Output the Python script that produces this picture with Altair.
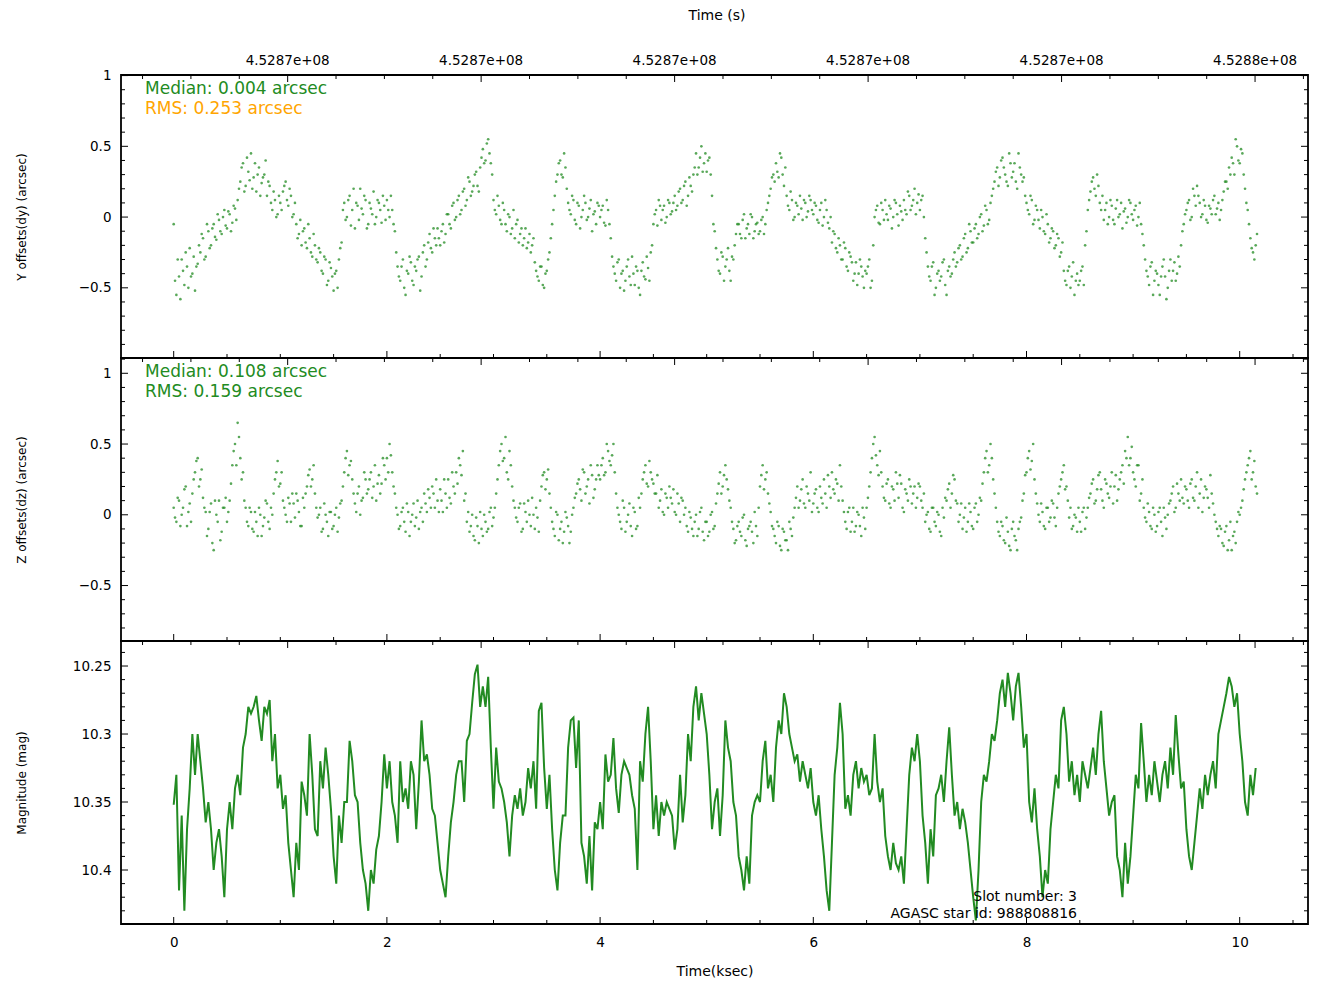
import altair as alt
import pandas as pd

# ---------------- data ----------------
T_STEP = 0.025  # ksec between samples; "b" readings sit half a step later

dy_values_a = [
    -0.05, -0.55, -0.42, -0.30, -0.48, -0.35, -0.22, -0.40, -0.52, -0.33, -0.25, -0.15, -0.28, -0.10, -0.20, -0.05, -0.16, -0.02, -0.12, 0.05,
    -0.08, 0.02, -0.04, 0.06, 0.12, 0.25, 0.38, 0.22, 0.32, 0.45, 0.28, 0.18, 0.35, 0.24, 0.30, 0.15, 0.22, 0.05, 0.12, 0.02,
    0.10, 0.18, 0.25, 0.08, 0.15, 0.02, -0.05, -0.12, -0.20, -0.08, -0.22, -0.15, -0.28, -0.20, -0.32, -0.25, -0.40, -0.30, -0.45, -0.36,
    -0.52, -0.38, -0.30, -0.18, 0.10, 0.00, 0.15, 0.05, -0.08, 0.08, 0.20, 0.02, 0.12, -0.05, 0.06, 0.18, 0.00, 0.10, -0.04, 0.08,
    0.12, 0.00, 0.05, -0.10, -0.35, -0.45, -0.30, -0.55, -0.40, -0.32, -0.48, -0.38, -0.28, -0.42, -0.20, -0.30, -0.12, -0.25, -0.15, -0.08,
    -0.20, -0.05, -0.12, 0.02, -0.08, 0.10, 0.00, 0.15, 0.05, 0.20, 0.12, 0.25, 0.18, 0.30, 0.22, 0.35, 0.48, 0.40, 0.55, 0.38,
    0.12, 0.02, 0.08, -0.05, 0.05, -0.10, 0.00, -0.08, -0.15, -0.02, -0.12, -0.20, -0.08, -0.18, -0.25, -0.15, -0.38, -0.45, -0.35, -0.50,
    -0.38, -0.25, -0.05, 0.15, 0.30, 0.40, 0.28, 0.35, 0.10, 0.02, 0.12, -0.05, 0.08, 0.00, 0.15, -0.02, 0.06, -0.10, 0.04, 0.10,
    0.00, 0.08, -0.06, 0.05, -0.15, -0.35, -0.45, -0.30, -0.40, -0.52, -0.35, -0.42, -0.28, -0.48, -0.38, -0.55, -0.32, -0.44, -0.36, -0.25,
    -0.05, 0.05, 0.12, -0.02, 0.08, 0.00, 0.10, 0.04, 0.15, 0.08, 0.20, 0.12, 0.25, 0.15, 0.22, 0.30, 0.45, 0.35, 0.50, 0.38,
    0.32, 0.42, 0.15, -0.10, -0.30, -0.40, -0.28, -0.35, -0.22, -0.45, -0.30, -0.12, -0.05, -0.15, 0.02, -0.08, -0.12, 0.00, -0.10, -0.04,
    -0.10, 0.00, -0.05, 0.10, 0.20, 0.30, 0.38, 0.28, 0.42, 0.22, 0.15, 0.05, 0.12, 0.00, 0.08, 0.15, -0.02, 0.10, 0.04, 0.12,
    0.02, 0.08, -0.04, 0.10, 0.00, 0.05, -0.08, -0.18, -0.12, -0.25, -0.20, -0.30, -0.22, -0.38, -0.28, -0.45, -0.32, -0.40, -0.35, -0.50,
    -0.40, -0.30, -0.45, 0.00, 0.08, -0.05, 0.05, 0.12, -0.02, 0.06, 0.00, 0.10, -0.06, 0.04, 0.12, 0.02, 0.15, 0.08, 0.20, 0.10,
    0.05, 0.15, -0.15, -0.35, -0.45, -0.32, -0.50, -0.38, -0.42, -0.30, -0.55, -0.35, -0.40, -0.25, -0.32, -0.20, -0.28, -0.12, -0.22, -0.10,
    -0.18, -0.05, -0.12, 0.02, -0.06, 0.05, -0.02, 0.15, 0.25, 0.35, 0.28, 0.42, 0.30, 0.22, 0.38, 0.32, 0.25, 0.45, 0.30, 0.28,
    0.10, 0.02, 0.12, -0.02, 0.05, -0.08, 0.00, -0.12, -0.05, -0.15, -0.10, -0.20, -0.15, -0.25, -0.38, -0.48, -0.35, -0.42, -0.55, -0.40,
    -0.45, -0.35, -0.20, 0.05, 0.18, 0.28, 0.15, 0.22, 0.05, -0.02, 0.10, 0.00, 0.08, -0.05, 0.12, 0.02, -0.08, 0.06, 0.00, 0.10,
    -0.02, 0.08, 0.00, -0.05, -0.20, -0.38, -0.48, -0.32, -0.45, -0.40, -0.55, -0.35, -0.42, -0.50, -0.30, -0.38, -0.45, -0.28, -0.20, -0.05,
    0.05, 0.12, 0.00, 0.15, 0.22, 0.10, 0.02, 0.08, -0.04, 0.06, 0.12, 0.02, 0.10, 0.05, 0.18, 0.25, 0.35, 0.42, 0.30, 0.50,
    0.38, 0.45, 0.20, 0.05, -0.15, -0.25, -0.20,
]

dy_values_b = [
    -0.45, -0.30, -0.58, -0.38, -0.25, -0.50, -0.42, -0.28, -0.35, -0.20, -0.12, -0.30, -0.05, -0.22, -0.08, -0.14, 0.02, -0.10, 0.00, -0.06,
    0.04, -0.10, 0.08, -0.02, 0.20, 0.35, 0.18, 0.42, 0.26, 0.20, 0.38, 0.30, 0.15, 0.28, 0.40, 0.25, 0.10, 0.18, 0.00, 0.15,
    0.05, 0.22, 0.12, 0.20, 0.00, 0.10, -0.15, -0.02, -0.10, -0.18, -0.05, -0.25, -0.12, -0.30, -0.22, -0.38, -0.28, -0.48, -0.32, -0.42,
    -0.40, -0.50, -0.22, 0.05, -0.02, 0.12, -0.06, 0.20, 0.10, -0.02, 0.06, 0.15, -0.08, 0.10, 0.02, -0.05, 0.12, 0.05, 0.15, -0.02,
    0.05, 0.15, -0.05, -0.25, -0.42, -0.35, -0.50, -0.38, -0.28, -0.45, -0.35, -0.30, -0.52, -0.25, -0.35, -0.18, -0.22, -0.08, -0.20, -0.15,
    -0.10, -0.18, 0.02, -0.05, 0.08, -0.02, 0.12, 0.02, 0.18, 0.08, 0.28, 0.15, 0.22, 0.32, 0.18, 0.42, 0.38, 0.52, 0.45, 0.30,
    0.05, 0.15, -0.02, 0.10, -0.05, 0.02, -0.12, 0.05, -0.05, -0.18, -0.08, -0.15, -0.22, -0.12, -0.20, -0.32, -0.42, -0.35, -0.48, -0.40,
    -0.30, -0.15, 0.05, 0.25, 0.38, 0.30, 0.45, 0.20, 0.05, 0.15, -0.02, 0.10, -0.08, 0.05, 0.10, 0.00, 0.12, 0.02, -0.05, 0.08,
    0.05, -0.04, 0.12, -0.05, -0.28, -0.40, -0.32, -0.50, -0.38, -0.45, -0.30, -0.48, -0.40, -0.35, -0.50, -0.38, -0.42, -0.28, -0.45, -0.20,
    0.02, -0.06, 0.08, 0.05, -0.04, 0.12, 0.02, 0.10, 0.05, 0.18, 0.10, 0.22, 0.08, 0.28, 0.18, 0.35, 0.30, 0.42, 0.32, 0.45,
    0.40, 0.30, -0.05, -0.22, -0.38, -0.25, -0.45, -0.30, -0.38, -0.28, -0.20, -0.05, -0.12, -0.02, -0.15, -0.05, 0.02, -0.15, -0.05, -0.12,
    -0.02, -0.12, 0.05, 0.15, 0.28, 0.25, 0.32, 0.45, 0.30, 0.35, 0.08, 0.18, -0.02, 0.10, 0.02, 0.06, 0.12, 0.00, 0.15, 0.05,
    0.10, -0.02, 0.05, -0.06, 0.12, -0.04, 0.00, -0.10, -0.22, -0.15, -0.30, -0.18, -0.35, -0.25, -0.32, -0.40, -0.48, -0.30, -0.42, -0.38,
    -0.35, -0.50, -0.20, 0.05, -0.04, 0.10, -0.02, 0.02, 0.08, -0.08, 0.12, 0.02, 0.08, -0.02, 0.05, 0.18, 0.05, 0.12, 0.02, 0.16,
    0.12, 0.00, -0.25, -0.42, -0.35, -0.55, -0.40, -0.45, -0.32, -0.48, -0.38, -0.42, -0.30, -0.35, -0.22, -0.30, -0.15, -0.25, -0.05, -0.18,
    -0.08, -0.15, 0.00, -0.10, 0.08, -0.05, 0.10, 0.20, 0.32, 0.22, 0.40, 0.35, 0.25, 0.45, 0.28, 0.38, 0.20, 0.35, 0.25, 0.15,
    0.05, 0.15, -0.05, 0.08, -0.02, 0.05, -0.10, 0.02, -0.18, -0.08, -0.22, -0.12, -0.28, -0.18, -0.45, -0.38, -0.50, -0.32, -0.45, -0.48,
    -0.38, -0.48, -0.10, 0.12, 0.25, 0.20, 0.30, 0.10, 0.15, 0.05, -0.05, 0.12, -0.02, 0.06, 0.00, 0.10, 0.04, -0.04, 0.12, 0.02,
    0.05, -0.06, 0.10, -0.12, -0.30, -0.42, -0.35, -0.55, -0.38, -0.48, -0.42, -0.30, -0.58, -0.38, -0.45, -0.32, -0.40, -0.35, -0.10, 0.02,
    0.10, -0.02, 0.20, 0.08, 0.15, 0.00, 0.12, -0.02, 0.08, 0.02, 0.15, 0.06, -0.02, 0.12, 0.25, 0.20, 0.30, 0.38, 0.55, 0.40,
    0.48, 0.30, 0.10, -0.05, -0.22, -0.30, -0.12,
]

dz_values_a = [
    0.05, -0.05, 0.10, 0.00, 0.18, -0.08, 0.08, 0.15, 0.30, 0.40, 0.25, 0.12, 0.02, -0.10, 0.08, -0.25, 0.00, 0.10, -0.12, 0.05,
    -0.05, 0.10, 0.35, 0.50, 0.65, 0.40, 0.30, 0.05, -0.08, 0.02, -0.12, -0.05, 0.05, -0.15, -0.02, 0.08, -0.10, 0.00, 0.25, 0.38,
    0.22, 0.10, 0.00, 0.12, -0.05, 0.08, 0.15, 0.02, -0.08, 0.05, 0.20, 0.32, 0.25, 0.15, -0.02, 0.05, -0.10, 0.00, -0.15, 0.02,
    -0.08, 0.05, -0.02, 0.10, 0.30, 0.45, 0.35, 0.25, 0.08, 0.15, 0.00, 0.12, 0.25, 0.18, 0.30, 0.20, 0.10, 0.28, 0.22, 0.35,
    0.40, 0.50, 0.30, 0.15, 0.00, -0.08, 0.05, -0.12, 0.02, -0.05, 0.08, -0.02, -0.10, 0.05, 0.15, 0.02, 0.12, 0.20, 0.05, 0.10,
    0.18, 0.02, 0.15, 0.25, 0.08, 0.20, 0.30, 0.40, 0.28, 0.10, -0.05, -0.12, 0.00, -0.18, -0.08, 0.02, -0.15, -0.05, -0.10, 0.05,
    -0.02, 0.15, 0.35, 0.50, 0.40, 0.30, 0.45, 0.20, 0.05, -0.05, 0.08, -0.10, 0.02, 0.10, -0.08, 0.00, 0.05, -0.12, 0.20, 0.30,
    0.25, 0.15, -0.05, -0.15, 0.00, -0.10, -0.20, 0.02, -0.08, -0.12, 0.05, 0.15, 0.25, 0.10, 0.30, 0.20, 0.08, 0.28, 0.18, 0.35,
    0.25, 0.40, 0.30, 0.45, 0.35, 0.50, 0.15, 0.00, -0.10, 0.05, -0.05, 0.08, -0.15, 0.02, -0.08, 0.05, 0.25, 0.35, 0.20, 0.30,
    0.22, 0.15, 0.05, 0.18, 0.00, 0.12, 0.20, 0.08, 0.02, 0.15, -0.05, 0.10, 0.05, -0.12, -0.02, -0.15, 0.00, -0.10, 0.05, -0.18,
    -0.05, -0.12, 0.02, -0.08, 0.15, 0.30, 0.20, 0.35, 0.18, 0.05, -0.10, -0.18, -0.05, -0.15, 0.00, -0.22, -0.08, -0.12, 0.02, -0.15,
    0.20, 0.35, 0.25, 0.15, 0.02, -0.10, -0.20, -0.08, -0.25, -0.12, -0.18, -0.05, -0.15, 0.05, 0.20, 0.10, 0.25, 0.05, 0.15, 0.30,
    0.08, 0.18, 0.02, 0.12, 0.25, 0.05, 0.20, 0.30, 0.15, 0.22, 0.35, 0.10, -0.05, 0.02, -0.12, 0.05, -0.08, 0.00, -0.15, -0.02,
    0.05, 0.20, 0.40, 0.55, 0.35, 0.45, 0.20, 0.10, 0.25, 0.05, 0.18, 0.30, 0.12, 0.22, 0.02, 0.15, 0.25, 0.08, 0.20, 0.12,
    0.20, 0.05, -0.05, 0.02, -0.12, 0.05, -0.08, 0.00, -0.15, -0.02, 0.10, 0.22, 0.15, 0.25, 0.08, 0.00, -0.10, 0.05, -0.05, 0.02,
    -0.10, 0.08, 0.00, 0.10, 0.30, 0.45, 0.35, 0.40, 0.15, -0.05, -0.15, -0.08, -0.20, -0.12, -0.25, -0.05, -0.18, -0.10, -0.02, 0.15,
    0.30, 0.45, 0.38, 0.25, 0.08, -0.05, 0.02, -0.10, 0.05, -0.02, 0.08, -0.08, 0.15, 0.25, 0.35, 0.20, -0.02, -0.10, 0.00, -0.12,
    -0.05, 0.02, -0.10, 0.05, 0.15, 0.25, 0.10, 0.28, 0.18, 0.05, 0.22, 0.12, 0.30, 0.20, 0.10, 0.25, 0.35, 0.45, 0.55, 0.40,
    0.30, 0.20, 0.35, 0.15, 0.05, -0.05, 0.02, -0.10, 0.00, -0.08, 0.05, -0.15, -0.02, 0.00, 0.10, 0.20, 0.05, 0.15, 0.25, 0.08,
    0.18, 0.05, 0.25, 0.10, 0.30, 0.15, 0.02, 0.20, 0.12, 0.28, 0.08, -0.05, -0.15, -0.10, -0.22, -0.08, -0.18, -0.25, -0.12, -0.05,
    0.00, 0.10, 0.25, 0.35, 0.45, 0.30, 0.20,
]

dz_values_b = [
    -0.02, 0.12, -0.08, 0.05, 0.20, 0.02, -0.05, 0.25, 0.38, 0.20, 0.32, 0.05, -0.15, 0.02, -0.20, 0.10, -0.05, -0.18, 0.05, 0.12,
    0.02, 0.22, 0.45, 0.35, 0.55, 0.25, 0.10, -0.05, 0.05, -0.10, 0.02, -0.15, 0.00, -0.08, 0.10, -0.05, 0.05, 0.15, 0.30, 0.20,
    0.30, 0.05, -0.05, 0.08, 0.15, -0.02, 0.10, -0.08, 0.12, 0.15, 0.28, 0.20, 0.35, 0.05, 0.00, -0.12, 0.08, -0.05, 0.02, -0.10,
    0.00, -0.12, 0.08, 0.20, 0.40, 0.28, 0.38, 0.15, 0.02, 0.20, 0.10, 0.30, 0.15, 0.25, 0.12, 0.35, 0.22, 0.15, 0.40, 0.25,
    0.30, 0.42, 0.20, 0.05, -0.10, 0.02, -0.05, 0.08, -0.15, 0.00, -0.08, 0.10, 0.02, -0.05, 0.08, 0.18, 0.05, 0.15, 0.25, 0.02,
    0.10, 0.25, 0.05, 0.12, 0.30, 0.15, 0.22, 0.35, 0.45, 0.15, 0.02, -0.08, -0.15, -0.02, -0.20, -0.10, 0.00, -0.12, 0.02, -0.08,
    0.05, 0.25, 0.45, 0.38, 0.55, 0.25, 0.35, 0.10, -0.02, 0.05, -0.12, 0.08, -0.05, 0.00, 0.12, -0.10, -0.02, 0.10, 0.28, 0.18,
    0.32, 0.05, -0.10, 0.02, -0.18, -0.05, -0.12, -0.02, -0.20, 0.00, 0.12, 0.22, 0.18, 0.32, 0.15, 0.25, 0.35, 0.12, 0.25, 0.28,
    0.35, 0.28, 0.50, 0.38, 0.42, 0.30, 0.05, -0.05, 0.10, -0.12, 0.00, -0.08, 0.05, -0.10, 0.12, 0.15, 0.30, 0.22, 0.38, 0.25,
    0.15, 0.28, 0.10, 0.02, 0.15, 0.05, 0.12, 0.18, 0.00, 0.08, 0.12, 0.00, -0.08, 0.02, -0.10, -0.05, -0.15, 0.02, -0.12, -0.05,
    -0.15, 0.00, -0.10, 0.08, 0.22, 0.15, 0.28, 0.25, 0.10, -0.05, -0.20, -0.08, -0.12, -0.02, -0.18, -0.10, -0.05, -0.20, -0.08, 0.05,
    0.28, 0.18, 0.30, 0.08, -0.08, -0.15, -0.05, -0.22, -0.10, -0.18, -0.25, -0.10, -0.02, 0.12, 0.05, 0.18, 0.08, 0.20, 0.10, 0.02,
    0.15, 0.05, 0.20, 0.08, 0.15, 0.28, 0.12, 0.18, 0.25, 0.10, 0.20, 0.02, -0.10, 0.05, -0.05, -0.12, 0.02, -0.08, 0.05, -0.10,
    0.12, 0.30, 0.50, 0.42, 0.28, 0.30, 0.12, 0.22, 0.08, 0.20, 0.10, 0.22, 0.28, 0.05, 0.18, 0.10, 0.20, 0.15, 0.05, 0.22,
    0.10, 0.15, 0.00, -0.10, 0.05, -0.05, 0.02, -0.12, 0.05, 0.12, 0.18, 0.05, 0.28, 0.10, -0.05, 0.08, -0.02, -0.12, 0.08, -0.08,
    0.05, -0.05, 0.12, 0.22, 0.40, 0.30, 0.50, 0.25, 0.05, -0.12, -0.05, -0.18, -0.02, -0.22, -0.10, -0.15, -0.25, -0.05, 0.10, 0.28,
    0.40, 0.32, 0.50, 0.15, 0.00, 0.08, -0.08, 0.05, -0.05, 0.10, -0.02, 0.05, 0.20, 0.30, 0.18, 0.10, 0.05, -0.08, -0.02, 0.05,
    -0.12, 0.05, -0.02, 0.12, 0.22, 0.08, 0.18, 0.30, 0.10, 0.25, 0.15, 0.20, 0.08, 0.28, 0.18, 0.30, 0.22, 0.40, 0.35, 0.48,
    0.25, 0.35, 0.10, 0.25, -0.02, 0.08, -0.08, 0.05, -0.12, 0.02, -0.05, 0.05, -0.10, 0.08, 0.15, 0.02, 0.22, 0.10, 0.12, 0.20,
    0.10, 0.22, 0.12, 0.20, 0.05, 0.25, 0.12, 0.18, 0.05, 0.15, 0.00, -0.10, -0.08, -0.20, -0.12, -0.25, -0.05, -0.15, -0.20, 0.02,
    0.05, 0.18, 0.30, 0.40, 0.25, 0.38, 0.15,
]

mag_values = [
    10.352, 10.33, 10.415, 10.36, 10.43, 10.37, 10.34, 10.30, 10.33, 10.30, 10.32, 10.34, 10.365, 10.35, 10.37, 10.40, 10.38, 10.37, 10.39, 10.42,
    10.37, 10.35, 10.37, 10.34, 10.33, 10.345, 10.31, 10.30, 10.28, 10.285, 10.28, 10.272, 10.29, 10.305, 10.28, 10.285, 10.275, 10.32, 10.30, 10.34,
    10.33, 10.355, 10.345, 10.38, 10.40, 10.42, 10.38, 10.40, 10.335, 10.345, 10.36, 10.30, 10.33, 10.37, 10.375, 10.32, 10.34, 10.31, 10.33, 10.355,
    10.39, 10.41, 10.36, 10.38, 10.35, 10.35, 10.305, 10.32, 10.345, 10.35, 10.38, 10.40, 10.41, 10.43, 10.40, 10.41, 10.385, 10.375, 10.35, 10.315,
    10.34, 10.32, 10.35, 10.36, 10.38, 10.32, 10.35, 10.34, 10.355, 10.32, 10.33, 10.37, 10.335, 10.29, 10.32, 10.315, 10.33, 10.355, 10.36, 10.38,
    10.40, 10.41, 10.42, 10.39, 10.365, 10.35, 10.33, 10.32, 10.32, 10.35, 10.305, 10.30, 10.277, 10.256, 10.249, 10.28, 10.265, 10.28, 10.258, 10.31,
    10.355, 10.31, 10.335, 10.34, 10.35, 10.365, 10.39, 10.36, 10.345, 10.355, 10.34, 10.36, 10.35, 10.325, 10.34, 10.32, 10.355, 10.283, 10.277, 10.325,
    10.355, 10.33, 10.37, 10.40, 10.415, 10.38, 10.36, 10.36, 10.31, 10.29, 10.288, 10.325, 10.29, 10.38, 10.39, 10.41, 10.375, 10.415, 10.365, 10.37,
    10.35, 10.37, 10.315, 10.335, 10.33, 10.303, 10.34, 10.358, 10.33, 10.32, 10.325, 10.33, 10.345, 10.355, 10.40, 10.32, 10.335, 10.30, 10.28, 10.32,
    10.37, 10.345, 10.375, 10.35, 10.36, 10.35, 10.355, 10.36, 10.385, 10.37, 10.33, 10.365, 10.345, 10.30, 10.32, 10.28, 10.265, 10.29, 10.27, 10.285,
    10.30, 10.33, 10.37, 10.35, 10.34, 10.375, 10.345, 10.29, 10.31, 10.32, 10.35, 10.36, 10.39, 10.40, 10.415, 10.39, 10.41, 10.36, 10.35, 10.345,
    10.35, 10.32, 10.305, 10.34, 10.33, 10.35, 10.31, 10.29, 10.30, 10.27, 10.28, 10.30, 10.31, 10.32, 10.315, 10.335, 10.32, 10.33, 10.34, 10.325,
    10.35, 10.36, 10.345, 10.37, 10.39, 10.415, 10.43, 10.38, 10.33, 10.31, 10.277, 10.30, 10.355, 10.345, 10.36, 10.33, 10.32, 10.34, 10.325, 10.335,
    10.33, 10.345, 10.34, 10.30, 10.335, 10.35, 10.34, 10.375, 10.39, 10.40, 10.38, 10.395, 10.40, 10.39, 10.41, 10.37, 10.33, 10.31, 10.32, 10.30,
    10.32, 10.36, 10.38, 10.41, 10.37, 10.39, 10.345, 10.34, 10.33, 10.35, 10.32, 10.295, 10.33, 10.36, 10.35, 10.37, 10.355, 10.365, 10.38, 10.40,
    10.42, 10.437, 10.40, 10.35, 10.33, 10.335, 10.32, 10.30, 10.305, 10.29, 10.27, 10.26, 10.28, 10.255, 10.27, 10.29, 10.265, 10.255, 10.28, 10.31,
    10.30, 10.35, 10.365, 10.34, 10.37, 10.39, 10.42, 10.40, 10.41, 10.37, 10.35, 10.33, 10.34, 10.29, 10.28, 10.30, 10.335, 10.32, 10.345, 10.33,
    10.35, 10.32, 10.33, 10.34, 10.325, 10.31, 10.33, 10.30, 10.283, 10.32, 10.34, 10.36, 10.35, 10.345, 10.39, 10.40, 10.42, 10.38, 10.41, 10.39,
    10.36, 10.33, 10.34, 10.292, 10.32, 10.35, 10.33, 10.345, 10.32, 10.335, 10.35, 10.33, 10.32, 10.34, 10.31, 10.33, 10.286, 10.315, 10.34, 10.335,
    10.37, 10.39, 10.40, 10.38, 10.36, 10.34, 10.355, 10.33, 10.345, 10.33, 10.32, 10.34, 10.30, 10.29, 10.28, 10.27, 10.258, 10.265, 10.28, 10.27,
    10.30, 10.32, 10.35, 10.36, 10.33, 10.345, 10.325,
]

# annotations
dy_median_label = "Median: 0.004 arcsec"
dy_rms_label = "RMS: 0.253 arcsec"
dz_median_label = "Median: 0.108 arcsec"
dz_rms_label = "RMS: 0.159 arcsec"
slot_label = "Slot number: 3"
agasc_label = "AGASC star id: 988808816"

# axis / tick labels
x_tick_values = [0, 2, 4, 6, 8, 10]
y_tick_values = [-0.5, 0, 0.5, 1]
mag_tick_values = [10.25, 10.3, 10.35, 10.4]
sec_tick_positions = [1.069, 2.884, 4.699, 6.514, 8.329, 10.144]  # ksec positions of top labels
sec_tick_labels = ["4.5287e+08", "4.5287e+08", "4.5287e+08", "4.5287e+08", "4.5287e+08", "4.5288e+08"]

X_DOMAIN = [-0.4944, 10.6407]
DY_DOMAIN = [-0.996, 1.004]
DZ_DOMAIN = [-0.892, 1.108]
MAG_DOMAIN = [10.2316, 10.4397]

# ---------------- styling ----------------
W, H = 1187, 283
FONT = "DejaVu Sans"
GREEN = "#228B22"
ORANGE = "#FFA500"
MAJ, MIN = 7, 4
TOP_TITLE_X = 596  # centre of the reference frame, in plot pixels


def series(values_a, values_b, name):
    ta = [round(i * T_STEP, 4) for i in range(len(values_a))]
    tb = [round(i * T_STEP + T_STEP / 2, 4) for i in range(len(values_b))]
    return pd.DataFrame({"t": ta + tb, name: values_a + values_b})


x_major = x_tick_values
x_minor = [round(0.5 * i, 2) for i in range(0, 22) if (0.5 * i) not in x_major]
sec_step = (sec_tick_positions[1] - sec_tick_positions[0]) / 4
sec_all = []
v = sec_tick_positions[0] - 3 * sec_step
while v < X_DOMAIN[1]:
    sec_all.append(round(v, 4))
    v += sec_step
sec_minor = [s for s in sec_all if min(abs(s - m) for m in sec_tick_positions) > 1e-3]


def minor_ticks(domain, step, majors):
    n0 = int(domain[0] / step) - 1
    n1 = int(domain[1] / step) + 1
    vals = [round(i * step, 3) for i in range(n0, n1 + 1)]
    vals = [x for x in vals if domain[0] <= x <= domain[1]]
    return [x for x in vals if min(abs(x - m) for m in majors) > step / 10]


def tick_layers(xs, xa, ys, ya, y_major, y_minor):
    layers = []
    for vals, ln in ((x_major, MAJ), (x_minor, MIN)):  # bottom ksec ticks
        layers.append(
            alt.Chart(pd.DataFrame({"v": vals})).mark_rule(color="black", strokeWidth=1).encode(
                x=alt.X("v:Q", scale=xs, axis=xa), y=alt.value(H), y2=alt.value(H - ln)))
    for vals, ln in ((sec_tick_positions, MAJ), (sec_minor, MIN)):  # top seconds ticks
        layers.append(
            alt.Chart(pd.DataFrame({"v": vals})).mark_rule(color="black", strokeWidth=1).encode(
                x=alt.X("v:Q", scale=xs, axis=xa), y=alt.value(0), y2=alt.value(ln)))
    for vals, ln in ((y_major, MAJ), (y_minor, MIN)):  # left / right ticks
        df = pd.DataFrame({"v": vals})
        layers.append(alt.Chart(df).mark_rule(color="black", strokeWidth=1).encode(
            y=alt.Y("v:Q", scale=ys, axis=ya), x=alt.value(0), x2=alt.value(ln)))
        layers.append(alt.Chart(df).mark_rule(color="black", strokeWidth=1).encode(
            y=alt.Y("v:Q", scale=ys, axis=ya), x=alt.value(W), x2=alt.value(W - ln)))
    return layers


def note(text, x, y, color, size, align="left"):
    return alt.Chart(pd.DataFrame({"label": [text]})).mark_text(
        align=align, baseline="middle", font=FONT, fontSize=size, color=color
    ).encode(x=alt.value(x), y=alt.value(y), text="label:N")


def y_axis(title, values):
    return alt.Axis(values=values, format="~g", title=title, ticks=False, tickSize=0,
                    domain=False, grid=False, labelPadding=10, titlePadding=13,
                    minExtent=80, maxExtent=80, labelFontSize=13.5, titleFontSize=12)


xs = alt.Scale(domain=X_DOMAIN, nice=False, zero=False)
x_hidden = alt.Axis(labels=False, ticks=False, domain=False, grid=False, title=None)
x_bottom = alt.Axis(values=x_tick_values, format="d", title="Time(ksec)", ticks=False, tickSize=0,
                    domain=False, grid=False, labelPadding=11, titlePadding=16,
                    labelFontSize=13.5, titleFontSize=14)

# ---- panel 1: Y offsets ----
ys1 = alt.Scale(domain=DY_DOMAIN, nice=False, zero=False)
ya1 = y_axis("Y offsets(dy) (arcsec)", y_tick_values)
pts1 = alt.Chart(series(dy_values_a, dy_values_b, "dy")).mark_circle(size=7, color=GREEN, opacity=0.75).encode(
    x=alt.X("t:Q", scale=xs, axis=x_hidden), y=alt.Y("dy:Q", scale=ys1, axis=ya1))
top_labels = alt.Chart(pd.DataFrame({"v": sec_tick_positions, "label": sec_tick_labels})).mark_text(
    baseline="middle", font=FONT, fontSize=13.5, color="black").encode(
    x=alt.X("v:Q", scale=xs, axis=x_hidden), y=alt.value(-14), text="label:N")
p1 = alt.layer(
    pts1, *tick_layers(xs, x_hidden, ys1, ya1, y_tick_values, minor_ticks(DY_DOMAIN, 0.1, y_tick_values)),
    note(dy_median_label, 24, 14, GREEN, 17), note(dy_rms_label, 24, 34, ORANGE, 17),
    top_labels, note("Time (s)", TOP_TITLE_X, -59, "black", 14, align="center"),
).properties(width=W, height=H)

# ---- panel 2: Z offsets ----
ys2 = alt.Scale(domain=DZ_DOMAIN, nice=False, zero=False)
ya2 = y_axis("Z offsets(dz) (arcsec)", y_tick_values)
pts2 = alt.Chart(series(dz_values_a, dz_values_b, "dz")).mark_circle(size=7, color=GREEN, opacity=0.75).encode(
    x=alt.X("t:Q", scale=xs, axis=x_hidden), y=alt.Y("dz:Q", scale=ys2, axis=ya2))
p2 = alt.layer(
    pts2, *tick_layers(xs, x_hidden, ys2, ya2, y_tick_values, minor_ticks(DZ_DOMAIN, 0.1, y_tick_values)),
    note(dz_median_label, 24, 14, GREEN, 17), note(dz_rms_label, 24, 34, GREEN, 17),
).properties(width=W, height=H)

# ---- panel 3: magnitude ----
ys3 = alt.Scale(domain=MAG_DOMAIN, nice=False, zero=False, reverse=True)
ya3 = y_axis("Magnitude (mag)", mag_tick_values)
df3 = pd.DataFrame({"t": [round(i * T_STEP, 4) for i in range(len(mag_values))], "mag": mag_values})
line3 = alt.Chart(df3).mark_line(color=GREEN, strokeWidth=2).encode(
    x=alt.X("t:Q", scale=xs, axis=x_bottom), y=alt.Y("mag:Q", scale=ys3, axis=ya3))
p3 = alt.layer(
    line3, *tick_layers(xs, x_bottom, ys3, ya3, mag_tick_values, minor_ticks(MAG_DOMAIN, 0.01, mag_tick_values)),
    note(slot_label, 956, 256, "black", 14, align="right"),
    note(agasc_label, 956, 273, "black", 14, align="right"),
).properties(width=W, height=H)

chart = alt.vconcat(p1, p2, p3, spacing=0, bounds="flush").properties(
    padding={"left": 6, "top": 0, "right": 0, "bottom": 0}
).configure_view(stroke="black", strokeWidth=1.8).configure_axis(
    labelFont=FONT, titleFont=FONT, labelColor="black", titleColor="black", titleFontWeight="normal"
)

chart.save("out.html", embed_options={"renderer": "svg", "actions": False})
